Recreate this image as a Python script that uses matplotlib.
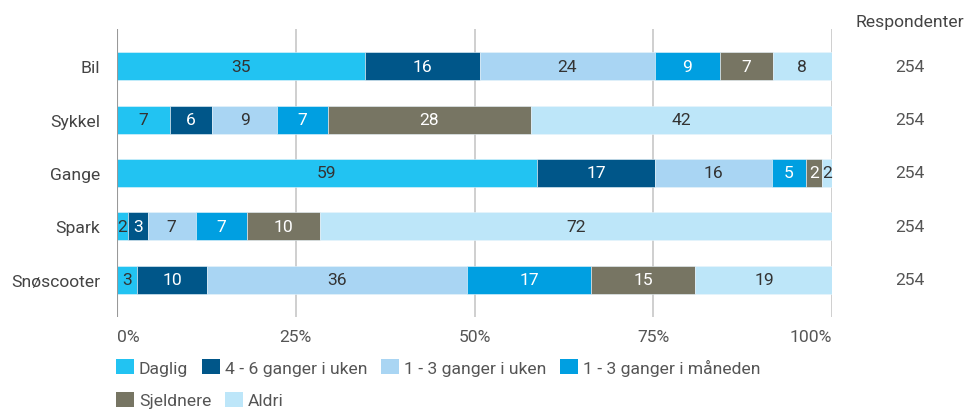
import numpy as np
import matplotlib.pyplot as plt
from matplotlib.patches import Patch
from matplotlib.transforms import blended_transform_factory

plt.rcParams['font.family'] = ['Roboto', 'DejaVu Sans']

# Transport modes and share of respondents (percent) per frequency
modes = ['Bil', 'Sykkel', 'Gange', 'Spark', 'Snøscooter']
respondents = [254, 254, 254, 254, 254]

categories = ['Daglig', '4 - 6 ganger i uken', '1 - 3 ganger i uken',
              '1 - 3 ganger i måneden', 'Sjeldnere', 'Aldri']
daglig = [34.7, 7.4, 58.7, 1.5, 2.8]
uke_4_6 = [16.1, 5.9, 16.6, 2.8, 9.8]
uke_1_3 = [24.4, 9.1, 16.3, 6.7, 36.4]
maned_1_3 = [9.1, 7.1, 4.7, 7.2, 17.3]
sjeldnere = [7.4, 28.4, 2.3, 10.2, 14.6]
aldri = [8.3, 42.1, 1.5, 71.6, 19.2]
series = [daglig, uke_4_6, uke_1_3, maned_1_3, sjeldnere, aldri]

colors = ['#22c3f2', '#005689', '#a9d5f3', '#009fe1', '#777563', '#bde6f9']
text_colors = ['#333333', 'white', '#333333', 'white', 'white', '#333333']
FS = 12.6

fig = plt.figure(figsize=(9.67, 4.1), dpi=100)
ax = fig.add_axes([117 / 967, 1 - 318 / 410, 715 / 967, 288 / 410])

y = np.arange(len(modes))
left = np.zeros(len(modes))
for vals, col, tcol in zip(series, colors, text_colors):
    vals = np.array(vals)
    ax.barh(y, vals, left=left, height=0.53, color=col, edgecolor='#e8f4fb', linewidth=0.4, zorder=3)
    for yi, l, v in zip(y, left, vals):
        ax.text(l + v / 2, yi, str(int(v + 0.5)), ha='center', va='center',
                fontsize=FS, color=tcol, zorder=4)
    left += vals

ax.set_xlim(0, 100)
ax.set_ylim(4.7, -0.7)
ax.set_xticks([0, 25, 50, 75, 100])
ax.set_xticklabels(['0%', '25%', '50%', '75%', '100%'])
xt = ax.get_xticklabels()
xt[0].set_ha('left')
xt[-1].set_ha('right')
ax.set_yticks(y)
ax.set_yticklabels(modes)
ax.tick_params(axis='both', length=0, labelsize=FS, labelcolor='#555555')
ax.tick_params(axis='y', pad=12, labelcolor='#444444')
ax.tick_params(axis='x', pad=9)
for s in ax.spines.values():
    s.set_visible(False)
for xv in [25, 50, 75, 100]:
    ax.axvline(xv, color='#cccccc', linewidth=1.3, zorder=1)
ax.axvline(0, color='#999999', linewidth=1.5, zorder=5)

# respondent column
tr = blended_transform_factory(fig.transFigure, ax.transData)
for yi, n in zip(y, respondents):
    ax.text(909.5 / 967, yi, str(n), transform=tr, ha='center', va='center',
            fontsize=FS, color='#555555')
fig.text(909.5 / 967, 1 - 22 / 410, 'Respondenter', ha='center', va='center',
         fontsize=FS, color='#444444')

# legend in two rows
handles = [Patch(facecolor=c, edgecolor='none') for c in colors]
leg_kw = dict(frameon=False, fontsize=FS, handlelength=1.0, handleheight=1.0,
              handletextpad=0.3, columnspacing=0.8, borderaxespad=0, borderpad=0,
              labelcolor='#555555')
leg1 = fig.legend(handles[:4], categories[:4], ncol=4, loc='center left',
                  bbox_to_anchor=(116 / 967, 1 - 368 / 410), **leg_kw)
leg2 = fig.legend(handles[4:], categories[4:], ncol=2, loc='center left',
                  bbox_to_anchor=(116 / 967, 1 - 401 / 410), **leg_kw)

fig.savefig('out.png', dpi=100)
